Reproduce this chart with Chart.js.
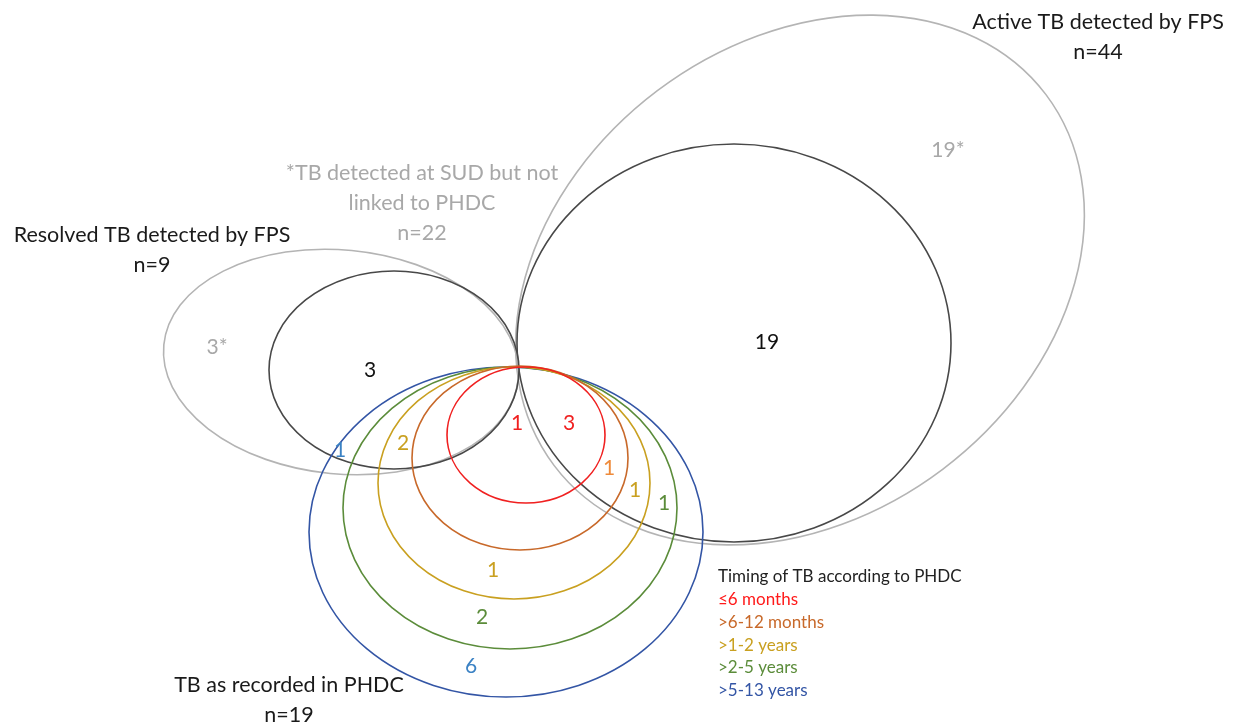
<!DOCTYPE html>
<html>
<head>
<meta charset="utf-8">
<script src="https://cdn.jsdelivr.net/npm/chart.js@4.4.1/dist/chart.umd.min.js"></script>
<style>
  html, body { margin: 0; padding: 0; background: #fff; }
  #wrap { width: 1244px; height: 727px; }
</style>
</head>
<body>
<div id="wrap"><canvas id="venn" width="1244" height="727"></canvas></div>
<script>
// diagram space: x 0..1244, y 0..727 (top to bottom)

// sets (ellipses)
const setNames = ['Active FPS (all)', 'Active FPS linked', 'Resolved FPS (all)', 'Resolved FPS linked',
                  '>5-13 years', '>2-5 years', '>1-2 years', '>6-12 months', '<=6 months'];
const setCx  = [800, 734, 341, 394, 506, 510, 514, 520, 526];
const setCy  = [280, 343, 362, 370, 532, 508, 483, 458, 435];
const setRx  = [308, 217, 178, 125, 197, 167, 136, 108, 79];
const setRy  = [237, 199, 112, 99, 165, 141, 116, 92, 68];
const setRot = [-37, 0, 5.5, 0, 0, 0, 0, 0, 0];
const setColors = ['#b4b4b4', '#484848', '#b4b4b4', '#484848', '#3355a5', '#5b8c3a', '#c9a020', '#c8692a', '#f02020'];

// counts in each region
const countText = ['19*', '19', '3*', '3', '1', '3', '1', '1', '1', '2', '1', '1', '2', '6'];
const countX    = [948, 767, 217, 370, 517, 569, 609, 635, 664, 403, 340, 493, 482, 471];
const countY    = [150, 342, 347, 370, 423, 423, 468, 490, 503, 443, 450, 570, 617, 666];
const countColors = ['#a8a8a8', '#111', '#a8a8a8', '#111', '#f02020', '#f02020', '#ee8a3a', '#c9a020', '#5b8c3a',
                     '#c9a020', '#3b82c4', '#c9a020', '#5b8c3a', '#3b82c4'];

// set titles
const titleLines = [
  ['Active TB detected by FPS', 'n=44'],
  ['*TB detected at SUD but not', 'linked to PHDC', 'n=22'],
  ['Resolved TB detected by FPS', 'n=9'],
  ['TB as recorded in PHDC', 'n=19']
];
const titleX = [1098, 422, 152, 289];
const titleY = [22, 173, 235, 685];
const titleColors = ['#1a1a1a', '#a8a8a8', '#1a1a1a', '#1a1a1a'];

// legend
const legendHeader = 'Timing of TB according to PHDC';
const legendLabels = ['≤6 months', '>6-12 months', '>1-2 years', '>2-5 years', '>5-13 years'];
const legendColors = ['#ff1a1a', '#c8692a', '#c9a020', '#5b8c3a', '#3355a5'];

const FONT = 'Lato, "Open Sans", sans-serif';

const vennPlugin = {
  id: 'venn',
  afterDatasetsDraw(chart) {
    const ctx = chart.ctx;
    const xs = chart.scales.x, ys = chart.scales.y;
    const px = v => xs.getPixelForValue(v);
    const py = v => ys.getPixelForValue(v);

    // ellipses
    ctx.save();
    setCx.forEach((cx, i) => {
      const x = px(cx), y = py(setCy[i]);
      const rx = Math.abs(px(cx + setRx[i]) - x);
      const ry = Math.abs(py(setCy[i] + setRy[i]) - y);
      ctx.beginPath();
      ctx.ellipse(x, y, rx, ry, setRot[i] * Math.PI / 180, 0, Math.PI * 2);
      ctx.strokeStyle = setColors[i];
      ctx.lineWidth = 1.6;
      ctx.stroke();
    });
    ctx.restore();

    // counts (positions from dataset 0 points)
    const pts = chart.getDatasetMeta(0).data;
    ctx.save();
    ctx.textAlign = 'center';
    ctx.textBaseline = 'middle';
    ctx.font = '21px ' + FONT;
    pts.forEach((p, i) => {
      ctx.fillStyle = countColors[i];
      ctx.fillText(countText[i], p.x, p.y);
    });

    // titles
    ctx.font = '21.5px ' + FONT;
    titleLines.forEach((lines, i) => {
      ctx.fillStyle = titleColors[i];
      lines.forEach((t, j) => ctx.fillText(t, px(titleX[i]), py(titleY[i] + j * 30)));
    });

    // legend
    ctx.textAlign = 'left';
    ctx.font = '17px ' + FONT;
    ctx.fillStyle = '#222';
    ctx.fillText(legendHeader, px(718), py(577));
    legendLabels.forEach((t, i) => {
      ctx.fillStyle = legendColors[i];
      ctx.fillText(t, px(718), py(600 + i * 22.6));
    });
    ctx.restore();
  }
};

new Chart(document.getElementById('venn'), {
  type: 'scatter',
  data: {
    datasets: [
      {
        label: 'counts',
        data: countX.map((x, i) => ({ x: x, y: countY[i] })),
        pointRadius: 0
      },
      {
        label: 'set centres',
        data: setCx.map((x, i) => ({ x: x, y: setCy[i] })),
        pointRadius: 0
      }
    ]
  },
  options: {
    responsive: false,
    animation: false,
    devicePixelRatio: 1,
    layout: { padding: 0 },
    plugins: { legend: { display: false }, tooltip: { enabled: false } },
    scales: {
      x: { type: 'linear', min: 0, max: 1244, display: false },
      y: { type: 'linear', min: 0, max: 727, reverse: true, display: false }
    }
  },
  plugins: [vennPlugin]
});
</script>
</body>
</html>
